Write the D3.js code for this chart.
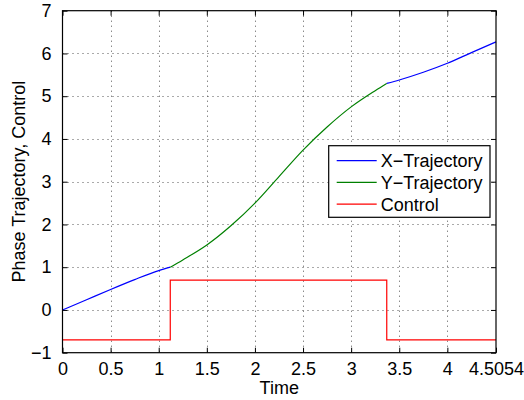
<!DOCTYPE html>
<html>
<head>
<meta charset="utf-8" />
<script src="https://cdn.jsdelivr.net/npm/d3@7"></script>
<style>
  body { margin: 0; background: #fff; }
  text { font-family: "Liberation Sans", Arial, sans-serif; fill: #000; }
  .grid line { stroke: #555; stroke-width: 1; stroke-dasharray: 1,4; }
</style>
</head>
<body>
<div id="chart"></div>
<script>
// X-Trajectory before the first switch
var tX1 = [0, 0.25, 0.5, 0.75, 1.0, 1.12];
var vX1 = [0, 0.24, 0.48, 0.71, 0.92, 1.0];
// Y-Trajectory while control is on
var tY = [1.12, 1.25, 1.5, 1.75, 2.0, 2.25, 2.5, 2.75, 3.0, 3.25, 3.37];
var vY = [1.0, 1.17, 1.52, 1.97, 2.5, 3.12, 3.74, 4.28, 4.75, 5.13, 5.3];
// X-Trajectory after the second switch
var tX2 = [3.37, 3.5, 3.75, 4.0, 4.25, 4.5054];
var vX2 = [5.3, 5.38, 5.56, 5.77, 6.02, 6.27];
// Control (step)
var tU = [0, 1.12, 3.37, 4.5054];
var vU = [-0.7, 0.7, -0.7, -0.7];

var xTicks = [0, 0.5, 1, 1.5, 2, 2.5, 3, 3.5, 4, 4.5054];
var yTicks = [-1, 0, 1, 2, 3, 4, 5, 6, 7];
var legendNames = ["X\u2212Trajectory", "Y\u2212Trajectory", "Control"];
var legendColors = ["#0000ff", "#008000", "#ff0000"];

var width = 524, height = 400;
var pLeft = 62.5, pRight = 496, pTop = 10.7, pBottom = 352.7;
var fs = '18px';

var x = d3.scaleLinear().domain([0, 4.5054]).range([pLeft, pRight]);
var y = d3.scaleLinear().domain([-1, 7]).range([pBottom, pTop]);

var svg = d3.select('#chart').append('svg')
  .attr('width', width).attr('height', height);

// grid
var grid = svg.append('g').attr('class', 'grid');
grid.selectAll('.gx').data(xTicks.slice(1, -1)).enter().append('line')
  .attr('x1', function(d) { return Math.round(x(d)) + 0.5; })
  .attr('x2', function(d) { return Math.round(x(d)) + 0.5; })
  .attr('y1', pTop).attr('y2', pBottom);
grid.selectAll('.gy').data(yTicks.slice(1, -1)).enter().append('line')
  .attr('y1', function(d) { return Math.round(y(d)) + 0.5; })
  .attr('y2', function(d) { return Math.round(y(d)) + 0.5; })
  .attr('x1', pLeft).attr('x2', pRight);

// axes with inward ticks
var fmt = function(d) { return d < 0 ? '\u2212' + Math.abs(d) : String(d); };
svg.append('g').attr('transform', 'translate(0,' + pBottom + ')')
  .call(d3.axisBottom(x).tickValues(xTicks).tickSizeInner(-5).tickSizeOuter(0).tickPadding(10).tickFormat(fmt));
svg.append('g').attr('transform', 'translate(' + pLeft + ',0)')
  .call(d3.axisLeft(y).tickValues(yTicks).tickSizeInner(-5).tickSizeOuter(0).tickPadding(11).tickFormat(fmt));
svg.append('g').attr('transform', 'translate(0,' + pTop + ')')
  .call(d3.axisTop(x).tickValues(xTicks).tickSizeInner(-5).tickSizeOuter(0).tickFormat(''));
svg.append('g').attr('transform', 'translate(' + pRight + ',0)')
  .call(d3.axisRight(y).tickValues(yTicks).tickSizeInner(-5).tickSizeOuter(0).tickFormat(''));
svg.selectAll('.domain').remove();
svg.selectAll('.tick line').attr('stroke', '#000');
svg.selectAll('.tick text').style('font-size', fs).style('font-family', '"Liberation Sans", Arial, sans-serif');

// data lines
var line = d3.line()
  .x(function(d) { return x(d[0]); })
  .y(function(d) { return y(d[1]); })
  .curve(d3.curveMonotoneX);
function pairs(t, v) { return t.map(function(d, i) { return [d, v[i]]; }); }

svg.append('path').datum(pairs(tX1, vX1)).attr('d', line)
  .attr('fill', 'none').attr('stroke', legendColors[0]).attr('stroke-width', 1.2);
svg.append('path').datum(pairs(tY, vY)).attr('d', line)
  .attr('fill', 'none').attr('stroke', legendColors[1]).attr('stroke-width', 1.2);
svg.append('path').datum(pairs(tX2, vX2)).attr('d', line)
  .attr('fill', 'none').attr('stroke', legendColors[0]).attr('stroke-width', 1.2);
svg.append('path').datum(pairs(tU, vU))
  .attr('d', d3.line().x(function(d) { return x(d[0]); }).y(function(d) { return y(d[1]); }).curve(d3.curveStepAfter))
  .attr('fill', 'none').attr('stroke', legendColors[2]).attr('stroke-width', 1.2);

// frame
svg.append('rect').attr('x', pLeft).attr('y', pTop)
  .attr('width', pRight - pLeft).attr('height', pBottom - pTop)
  .attr('fill', 'none').attr('stroke', '#000').attr('stroke-width', 1.2);

// labels
svg.append('text').attr('x', (pLeft + pRight) / 2).attr('y', 394)
  .attr('text-anchor', 'middle').style('font-size', fs).text('Time');
svg.append('text')
  .attr('transform', 'translate(25,' + ((pTop + pBottom) / 2) + ') rotate(-90)')
  .attr('text-anchor', 'middle').style('font-size', fs).text('Phase Trajectory, Control');

// legend
var lg = svg.append('g');
lg.append('rect').attr('x', 328.7).attr('y', 145.7).attr('width', 161.3).attr('height', 71.6)
  .attr('fill', '#fff').attr('stroke', '#000').attr('stroke-width', 1.2);
legendNames.forEach(function(name, i) {
  var ly = 160.7 + i * 21.7;
  lg.append('line').attr('x1', 336.7).attr('x2', 376.7).attr('y1', ly).attr('y2', ly)
    .attr('stroke', legendColors[i]).attr('stroke-width', 1.2);
  lg.append('text').attr('x', 380.7).attr('y', ly + 6.5).style('font-size', fs).text(name);
});
</script>
</body>
</html>
